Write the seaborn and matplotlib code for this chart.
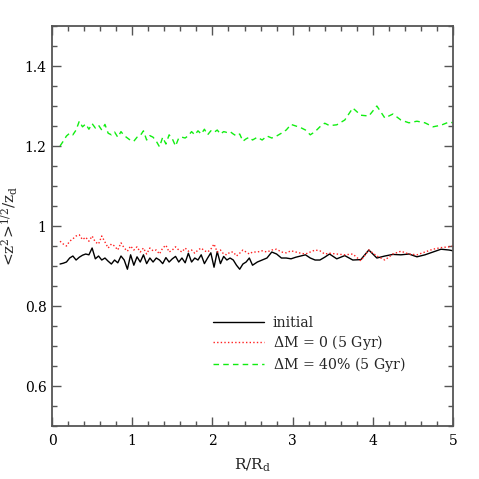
import numpy as np
import pandas as pd
import matplotlib
matplotlib.use("Agg")
import matplotlib.pyplot as plt
import seaborn as sns
from matplotlib.ticker import FixedLocator, FuncFormatter

# ---------------- data ----------------
R = [0.10, 0.14, 0.18, 0.22, 0.26, 0.30, 0.34, 0.38, 0.42, 0.46,
     0.50, 0.54, 0.58, 0.62, 0.66, 0.70, 0.74, 0.78, 0.82, 0.86,
     0.90, 0.94, 0.98, 1.02, 1.06, 1.10, 1.14, 1.18, 1.22, 1.26,
     1.30, 1.34, 1.38, 1.42, 1.46, 1.50, 1.54, 1.58, 1.62, 1.66,
     1.70, 1.74, 1.78, 1.82, 1.86, 1.90, 1.94, 1.98, 2.02, 2.06,
     2.10, 2.14, 2.18, 2.22, 2.26, 2.30, 2.34, 2.38, 2.42, 2.46,
     2.50,
     2.56, 2.62, 2.68, 2.74, 2.80, 2.86, 2.92, 2.98, 3.04, 3.10,
     3.16, 3.22, 3.28, 3.34, 3.40, 3.46,
     3.55, 3.65, 3.75, 3.85, 3.95, 4.05, 4.15, 4.25, 4.35, 4.45,
     4.55, 4.65, 4.75, 4.85, 4.95, 5.00]

initial = [0.905, 0.907, 0.910, 0.920, 0.925, 0.915, 0.922, 0.927, 0.930, 0.928,
           0.945, 0.918, 0.925, 0.915, 0.920, 0.912, 0.905, 0.915, 0.908, 0.925,
           0.915, 0.892, 0.928, 0.902, 0.923, 0.910, 0.928, 0.906, 0.920, 0.910,
           0.920, 0.915, 0.906, 0.921, 0.910, 0.918, 0.924, 0.910, 0.920, 0.908,
           0.932, 0.910, 0.920, 0.915, 0.928, 0.906, 0.920, 0.933, 0.897, 0.936,
           0.906, 0.924, 0.915, 0.920, 0.915, 0.902, 0.892, 0.905, 0.910, 0.920,
           0.902,
           0.910, 0.915, 0.920, 0.935, 0.930, 0.920, 0.920, 0.918, 0.922, 0.925,
           0.928, 0.920, 0.915, 0.915, 0.922, 0.930,
           0.918, 0.926, 0.915, 0.916, 0.940, 0.920, 0.925, 0.929, 0.928, 0.930,
           0.923, 0.928, 0.935, 0.942, 0.940, 0.938]

dm0 = [0.962, 0.955, 0.950, 0.962, 0.968, 0.975, 0.978, 0.966, 0.972, 0.962,
       0.975, 0.960, 0.955, 0.975, 0.960, 0.945, 0.955, 0.950, 0.940, 0.958,
       0.945, 0.937, 0.950, 0.940, 0.948, 0.935, 0.945, 0.930, 0.945, 0.938,
       0.940, 0.930, 0.945, 0.952, 0.935, 0.940, 0.948, 0.940, 0.935, 0.945,
       0.937, 0.940, 0.932, 0.940, 0.945, 0.938, 0.935, 0.942, 0.955, 0.935,
       0.940, 0.930, 0.928, 0.935, 0.935, 0.925, 0.932, 0.940, 0.935, 0.930,
       0.935,
       0.935, 0.938, 0.935, 0.940, 0.942, 0.935, 0.933, 0.938, 0.935, 0.932,
       0.930, 0.935, 0.940, 0.938, 0.930, 0.932,
       0.930, 0.928, 0.930, 0.913, 0.940, 0.925, 0.915, 0.930, 0.937, 0.930,
       0.928, 0.935, 0.942, 0.946, 0.948, 0.950]

dm40 = [1.200, 1.212, 1.225, 1.232, 1.228, 1.240, 1.262, 1.248, 1.255, 1.242,
        1.256, 1.245, 1.252, 1.240, 1.254, 1.232, 1.228, 1.235, 1.222, 1.236,
        1.226, 1.220, 1.214, 1.212, 1.222, 1.226, 1.238, 1.215, 1.226, 1.222,
        1.212, 1.198, 1.222, 1.205, 1.228, 1.218, 1.200, 1.220, 1.222, 1.220,
        1.226, 1.236, 1.228, 1.238, 1.230, 1.242, 1.228, 1.238, 1.234, 1.240,
        1.230, 1.236, 1.234, 1.236, 1.230, 1.225, 1.230, 1.212, 1.218, 1.222,
        1.215,
        1.222, 1.215, 1.225, 1.220, 1.225, 1.232, 1.240, 1.254, 1.250, 1.246,
        1.240, 1.228, 1.236, 1.248, 1.257, 1.251,
        1.253, 1.265, 1.295, 1.277, 1.275, 1.300, 1.270, 1.280, 1.265, 1.258,
        1.262, 1.258, 1.248, 1.252, 1.260, 1.258]

labels = ["initial", r"$\Delta$M = 0 (5 Gyr)", r"$\Delta$M = 40% (5 Gyr)"]
x_major = [0, 1, 2, 3, 4, 5]
y_major = [0.6, 0.8, 1.0, 1.2, 1.4]

# ---------------- plot ----------------
sns.set_theme(style="ticks")
plt.rcParams["font.family"] = ["DejaVu Serif"]
plt.rcParams["mathtext.fontset"] = "dejavuserif"

fig = plt.figure(figsize=(4.79, 4.79), dpi=100)
ax = fig.add_axes([0.1086, 0.1106, 0.8372, 0.8351])

sns.lineplot(x=R, y=initial, ax=ax, color="black", lw=1.0, estimator=None,
             label=labels[0])
sns.lineplot(x=R, y=dm0, ax=ax, color="#ff2020", lw=1.0, estimator=None,
             linestyle=(0, (1, 1.6)), label=labels[1])
sns.lineplot(x=R, y=dm40, ax=ax, color="#11ee11", lw=1.0, estimator=None,
             linestyle=(0, (4, 3)), label=labels[2])

ax.set_xlim(0, 5)
ax.set_ylim(0.5, 1.5)
ax.xaxis.set_major_locator(FixedLocator(x_major))
ax.yaxis.set_major_locator(FixedLocator(y_major))
ax.xaxis.set_minor_locator(FixedLocator([i * 0.2 for i in range(26)]))
ax.yaxis.set_minor_locator(FixedLocator([0.5 + i * 0.05 for i in range(21)]))
ax.yaxis.set_major_formatter(FuncFormatter(lambda v, p: "%g" % round(v, 2)))
ax.xaxis.set_major_formatter(FuncFormatter(lambda v, p: "%g" % v))

ax.tick_params(which="both", direction="in", top=True, right=True,
               color="#555555", width=1.0, labelsize=10, labelcolor="black")
ax.tick_params(which="major", length=6.5)
ax.tick_params(axis="x", which="major", pad=6)
ax.tick_params(axis="y", which="major", pad=4)
ax.tick_params(which="minor", length=3.5)
for s in ax.spines.values():
    s.set_color("#555555")
    s.set_linewidth(1.3)

ax.set_xlabel(r"$\mathrm{R/R_d}$", fontsize=11, labelpad=6)
ax.set_ylabel(r"<$\mathrm{z^2}$>$^{\mathrm{1/2}}$/$\mathrm{z_d}$", fontsize=11,
              labelpad=3)

leg = ax.legend(loc="upper left", bbox_to_anchor=(0.4015, 0.274), frameon=False,
                fontsize=10.2, handlelength=3.6, handletextpad=0.6,
                labelspacing=0.2, borderpad=0, borderaxespad=0)

fig.savefig("out.png", dpi=100)
